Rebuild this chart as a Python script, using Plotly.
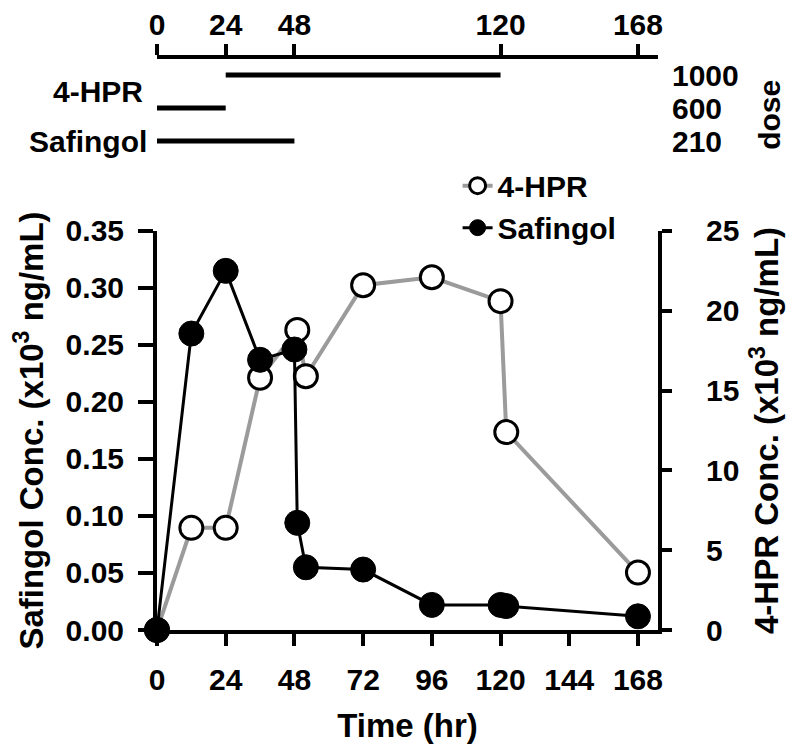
import plotly.graph_objects as go

# time points (hr) and concentrations
hpr_time = [0, 12, 24, 36, 49, 52, 72, 96, 120, 122, 168]
hpr_conc = [0, 6.4, 6.4, 15.8, 18.8, 15.9, 21.6, 22.1, 20.6, 12.4, 3.6]   # x10^3 ng/mL

saf_time = [0, 12, 24, 36, 48, 49, 52, 72, 96, 120, 122, 168]
saf_conc = [0, 0.26, 0.315, 0.237, 0.246, 0.094, 0.055, 0.053, 0.022, 0.022, 0.021, 0.012]

time_ticks = [0, 24, 48, 72, 96, 120, 144, 168]
schedule_ticks = [0, 24, 48, 120, 168]

# dosing schedule bars (row 0 = bottom)
dose_labels = ["210", "600", "1000"]
dose_start = [0, 0, 24]
dose_end = [48, 24, 120]

FONT = "Liberation Sans, Arial, sans-serif"
TICKFONT = dict(family=FONT, size=30, color="black", weight="bold")
TITLEFONT = dict(family=FONT, size=33, color="black", weight="bold")

fig = go.Figure()

fig.add_trace(go.Scatter(
    x=hpr_time, y=hpr_conc, name="4-HPR", yaxis="y", xaxis="x",
    mode="lines+markers", cliponaxis=False, legendgroup="a",
    line=dict(color="#9b9b9b", width=4),
    marker=dict(symbol="circle", size=23, color="white",
                line=dict(color="black", width=3)),
))
fig.add_trace(go.Scatter(
    x=saf_time, y=saf_conc, name="Safingol", yaxis="y2", xaxis="x",
    mode="lines+markers", cliponaxis=False, legendgroup="b",
    line=dict(color="black", width=3),
    marker=dict(symbol="circle", size=25, color="black",
                line=dict(color="black", width=1)),
))

for i, lab in enumerate(dose_labels):
    fig.add_trace(go.Scatter(
        x=[dose_start[i], dose_end[i]], y=[i, i], xaxis="x2", yaxis="y3",
        mode="lines", showlegend=False, hoverinfo="skip",
        line=dict(color="black", width=5),
    ))

annotations = []
for i, lab in enumerate(dose_labels):
    annotations.append(dict(
        x=1, xref="paper", y=i, yref="y3", text=lab, showarrow=False,
        xanchor="left", yanchor="middle", xshift=12, font=TICKFONT,
    ))
annotations += [
    dict(x=0, xref="x2", y=1.5, yref="y3", text="4-HPR", showarrow=False,
         xanchor="right", yanchor="middle", xshift=-12, font=TICKFONT),
    dict(x=0, xref="x2", y=0, yref="y3", text="Safingol", showarrow=False,
         xanchor="right", yanchor="middle", xshift=-8, font=TICKFONT),
    dict(x=1.222, xref="paper", y=0.8, yref="y3", text="dose", showarrow=False,
         textangle=-90, xanchor="center", yanchor="middle", font=TICKFONT),
]

axis_common = dict(showgrid=False, zeroline=False, showline=True, automargin=False,
                   linecolor="black", linewidth=4, ticks="outside",
                   tickcolor="black", tickwidth=4, tickfont=TICKFONT)

fig.update_layout(
    width=800, height=755,
    margin=dict(l=149, r=150, t=47, b=133),
    paper_bgcolor="white", plot_bgcolor="white",
    xaxis=dict(domain=[0, 1], range=[0, 175], anchor="y2",
               tickvals=time_ticks, ticklen=12, ticklabelstandoff=8,
               title=dict(text="Time (hr)", font=TITLEFONT, standoff=20),
               **axis_common),
    yaxis=dict(domain=[0, 0.694], range=[0, 25], side="right", anchor="x",
               tickvals=[0, 5, 10, 15, 20, 25], ticklen=10, ticklabelstandoff=28,
               title=dict(text="4-HPR Conc. (x10<sup>3</sup> ng/mL)",
                          font=TITLEFONT, standoff=18),
               **axis_common),
    yaxis2=dict(range=[0, 0.35], side="left", overlaying="y", anchor="x",
                tickvals=[0, 0.05, 0.1, 0.15, 0.2, 0.25, 0.3, 0.35],
                tickformat=".2f", ticklen=15, ticklabelstandoff=8,
                title=dict(text="Safingol Conc. (x10<sup>3</sup> ng/mL)",
                           font=TITLEFONT, standoff=34),
                **axis_common),
    xaxis2=dict(domain=[0, 1], range=[0, 175], anchor="y3", side="top",
                tickvals=schedule_ticks, ticklen=11, ticklabelstandoff=-3,
                **axis_common),
    yaxis3=dict(domain=[0.826, 0.993], range=[-0.424, 2.485], visible=False,
                anchor="x2"),
    legend=dict(x=0.6, y=0.818, xanchor="left", yanchor="top",
                font=dict(family=FONT, size=30, color="black", weight="bold"),
                bgcolor="rgba(0,0,0,0)", tracegroupgap=0),
    annotations=annotations,
    showlegend=True,
)

fig.write_html("out.html")
